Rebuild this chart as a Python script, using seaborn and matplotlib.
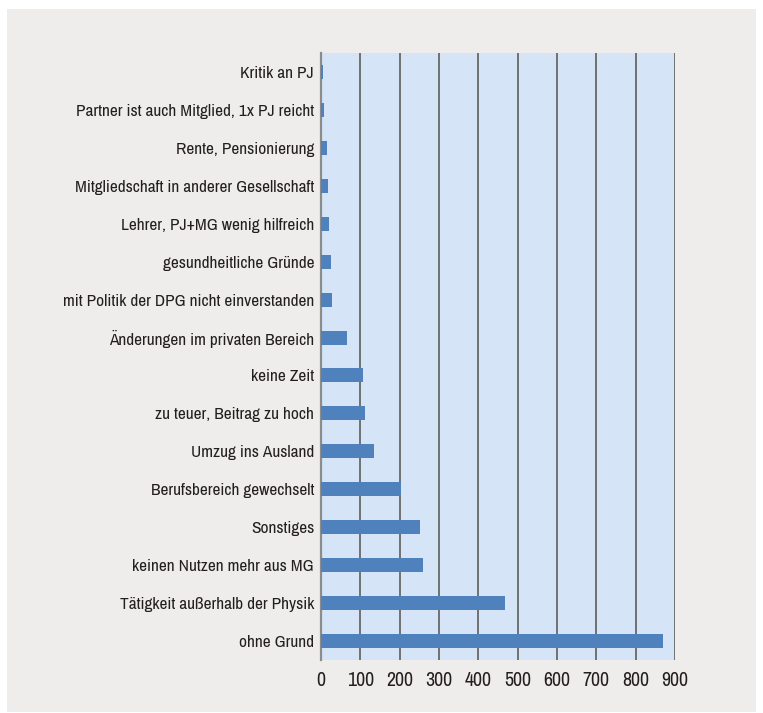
import pandas as pd
from matplotlib import pyplot as plt
from matplotlib import font_manager
from matplotlib.patches import Rectangle
import seaborn as sns

reasons = [
    "Kritik an PJ",
    "Partner ist auch Mitglied, 1x PJ reicht",
    "Rente, Pensionierung",
    "Mitgliedschaft in anderer Gesellschaft",
    "Lehrer, PJ+MG wenig hilfreich",
    "gesundheitliche Gründe",
    "mit Politik der DPG nicht einverstanden",
    "Änderungen im privaten Bereich",
    "keine Zeit",
    "zu teuer, Beitrag zu hoch",
    "Umzug ins Ausland",
    "Berufsbereich gewechselt",
    "Sonstiges",
    "keinen Nutzen mehr aus MG",
    "Tätigkeit außerhalb der Physik",
    "ohne Grund",
]
counts = [5, 7, 14, 17, 20, 25, 27, 65, 108, 112, 135, 203, 252, 259, 468, 869]
xticks = [0, 100, 200, 300, 400, 500, 600, 700, 800, 900]

sns.set_theme(style="white")

# pick a narrow font if the system has one
ttf = font_manager.fontManager.ttflist
narrow = sorted({f.name for f in ttf if "Narrow" in f.name or "Condensed" in f.name})
cond_dejavu = [f for f in ttf if f.name == "DejaVu Sans" and "condensed" in str(f.stretch)]
if narrow:
    plt.rcParams["font.family"] = [narrow[0], "DejaVu Sans"]
elif cond_dejavu:
    plt.rcParams["font.family"] = ["DejaVu Sans"]
    plt.rcParams["font.stretch"] = "condensed"
else:
    plt.rcParams["font.family"] = ["Roboto", "DejaVu Sans"]

df = pd.DataFrame({"reason": reasons, "count": counts})

fig = plt.figure(figsize=(7.63, 7.13), dpi=100)
fig.patch.set_facecolor("white")
fig.patches.append(Rectangle((7 / 763, 1 - 712 / 713), 749 / 763, 703 / 713,
                             transform=fig.transFigure, facecolor="#eeedeb",
                             edgecolor="none", zorder=-5))

ax = fig.add_axes([321 / 763, 1 - 660 / 713, 354 / 763, 607 / 713])
ax.set_facecolor("#d5e5f7")

sns.barplot(data=df, x="count", y="reason", color="#4f81bd", width=0.37,
            saturation=1, linewidth=0, ax=ax, zorder=3)

ax.set_xlim(0, 900)
ax.set_xticks(xticks)
ax.set_xticklabels([str(t) for t in xticks])
ax.set_xlabel("")
ax.set_ylabel("")
ax.grid(axis="x", color="#707070", linewidth=1.4, zorder=1)
ax.set_axisbelow(True)
for side in ["top", "right", "bottom"]:
    ax.spines[side].set_visible(False)
ax.spines["left"].set_color("#8c8c8c")
ax.spines["left"].set_linewidth(1.6)
ax.spines["left"].set_zorder(2)
ax.tick_params(axis="both", length=0, labelsize=14, colors="#231f20")
ax.tick_params(axis="y", pad=5)
ax.tick_params(axis="x", pad=8)

# shrink labels so the longest one is as wide as in the original (~250 px)
fig.canvas.draw()
r = fig.canvas.get_renderer()
widest = max(t.get_window_extent(r).width for t in ax.get_yticklabels())
size = min(15, 14 * 250 / widest)
ax.tick_params(axis="y", labelsize=size)
ax.tick_params(axis="x", labelsize=size * 1.15)

fig.savefig("out.png", dpi=100, facecolor=fig.get_facecolor())
